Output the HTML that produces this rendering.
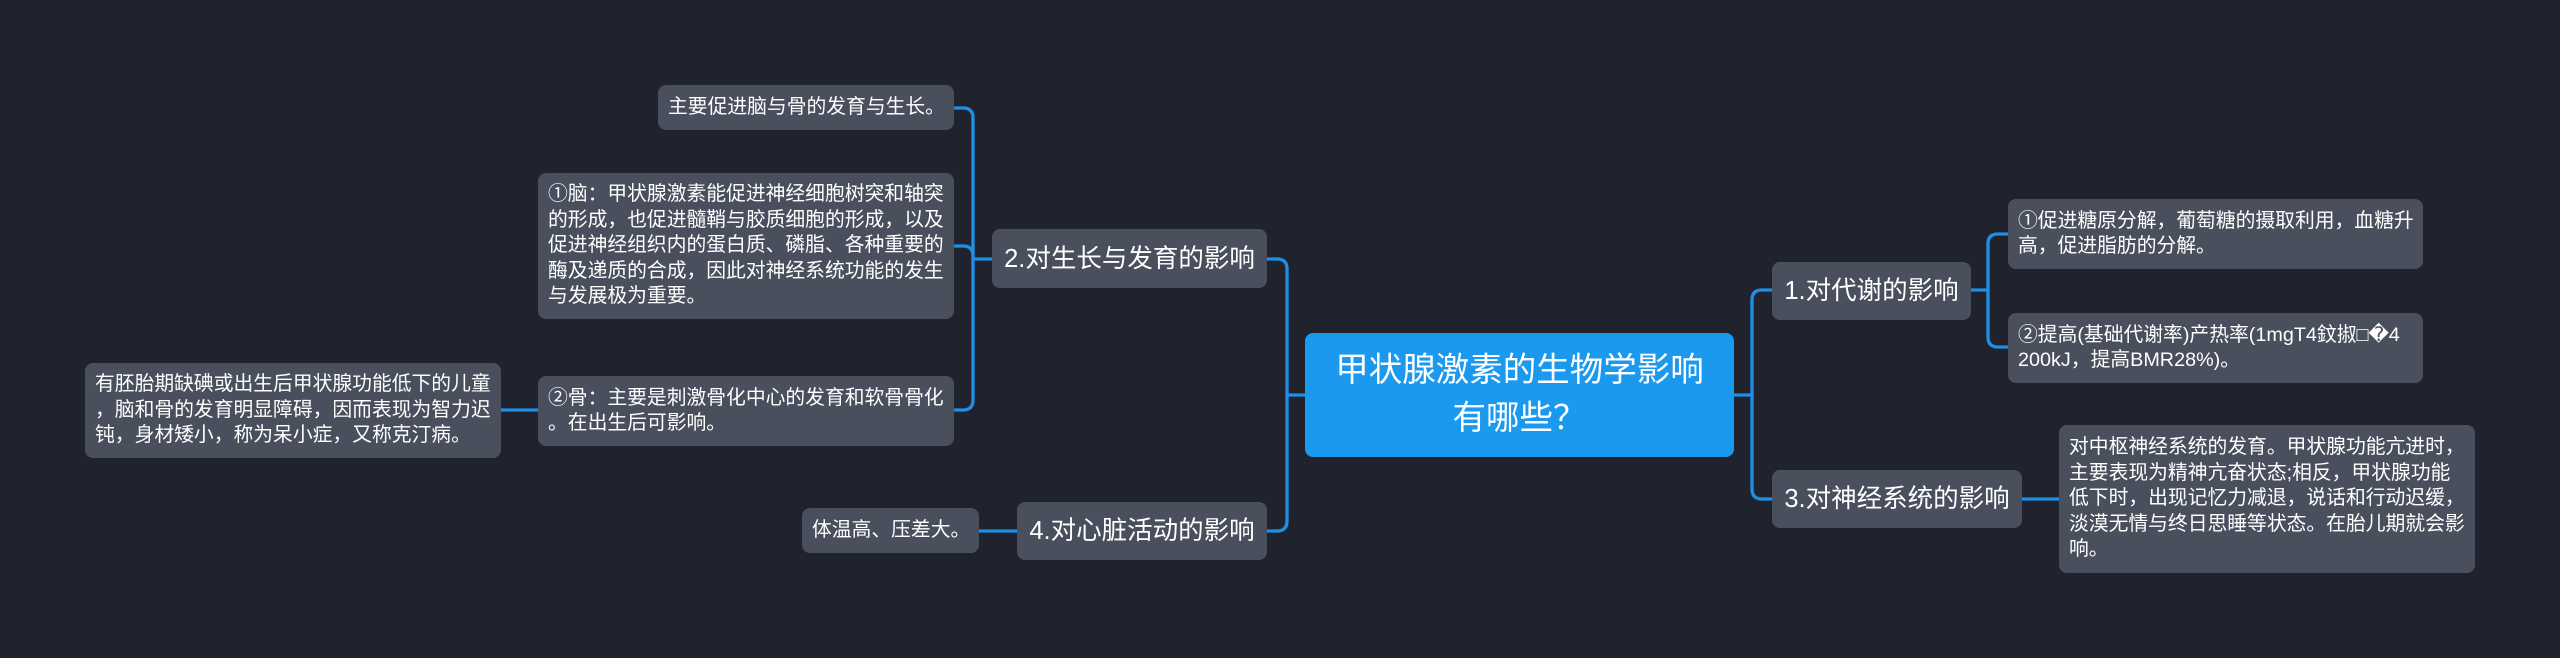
<!DOCTYPE html>
<html>
<head>
<meta charset="utf-8">
<style>
  html, body { margin:0; padding:0; }
  body { width:2560px; height:658px; background:#20232e; overflow:hidden; }
  #c { position:relative; width:2560px; height:658px; background:#20232e; }
  .n { position:absolute; box-sizing:border-box; border-radius:8px; background:#4a4f5e; color:#ffffff;
       font-family:"Liberation Sans","Noto Sans CJK SC",sans-serif; white-space:nowrap;
       display:flex; flex-direction:column; justify-content:center; }
  .leaf { font-size:19.8px; line-height:25.4px; padding:0 10px; text-align:left; }
  .l1 { font-size:25.5px; line-height:32px; text-align:center; align-items:center; }
  .root { background:#1a99ef; font-size:33.5px; line-height:48px; text-align:center; align-items:center; }
  svg { position:absolute; left:0; top:0; }
</style>
</head>
<body>
<div id="c">
<svg width="2560" height="658" viewBox="0 0 2560 658">
  <g fill="none" stroke="#1f8fe6" stroke-width="3.3" stroke-linecap="round">
    <path d="M1287,395 H1305"/>
    <path d="M1267,259 H1277 Q1287,259 1287,269 V521 Q1287,531 1277,531 H1267"/>
    <path d="M973,259 H992"/>
    <path d="M954,108 H963 Q973,108 973,118 V400 Q973,410 963,410 H954"/>
    <path d="M954,246 H963 Q973,246 973,256"/>
    <path d="M501,410 H538"/>
    <path d="M979,531 H1017"/>
    <path d="M1734,395 H1752"/>
    <path d="M1772,290 H1762 Q1752,290 1752,300 V489 Q1752,499 1762,499 H1772"/>
    <path d="M1971,290 H1988"/>
    <path d="M2008,234 H1998 Q1988,234 1988,244 V337 Q1988,347 1998,347 H2008"/>
    <path d="M2022,499 H2059"/>
  </g>
</svg>

<div class="n root" style="left:1305px;top:333px;width:429px;height:124px;">
  <div>甲状腺激素的生物学影响<br>有哪些？</div>
</div>

<div class="n l1" style="left:992px;top:229px;width:275px;height:59px;"><div>2.对生长与发育的影响</div></div>
<div class="n l1" style="left:1017px;top:502px;width:250px;height:58px;"><div>4.对心脏活动的影响</div></div>
<div class="n l1" style="left:1772px;top:262px;width:199px;height:58px;"><div>1.对代谢的影响</div></div>
<div class="n l1" style="left:1772px;top:470px;width:250px;height:58px;"><div>3.对神经系统的影响</div></div>

<div class="n leaf" style="left:658px;top:85px;width:296px;height:45px;"><div>主要促进脑与骨的发育与生长。</div></div>
<div class="n leaf" style="left:538px;top:173px;width:416px;height:146px;"><div>①脑：甲状腺激素能促进神经细胞树突和轴突<br>的形成，也促进髓鞘与胶质细胞的形成，以及<br>促进神经组织内的蛋白质、磷脂、各种重要的<br>酶及递质的合成，因此对神经系统功能的发生<br>与发展极为重要。</div></div>
<div class="n leaf" style="left:538px;top:376px;width:416px;height:70px;"><div>②骨：主要是刺激骨化中心的发育和软骨骨化<br>。在出生后可影响。</div></div>
<div class="n leaf" style="left:85px;top:363px;width:416px;height:95px;"><div>有胚胎期缺碘或出生后甲状腺功能低下的儿童<br>，脑和骨的发育明显障碍，因而表现为智力迟<br>钝，身材矮小，称为呆小症，又称克汀病。</div></div>
<div class="n leaf" style="left:802px;top:508px;width:177px;height:45px;"><div>体温高、压差大。</div></div>

<div class="n leaf" style="left:2008px;top:199px;width:415px;height:70px;"><div>①促进糖原分解，葡萄糖的摄取利用，血糖升<br>高，促进脂肪的分解。</div></div>
<div class="n leaf" style="left:2008px;top:313px;width:415px;height:70px;"><div>②提高(基础代谢率)产热率(1mgT4鈫掓□�4<br>200kJ，提高BMR28%)。</div></div>
<div class="n leaf" style="left:2059px;top:425px;width:416px;height:148px;"><div>对中枢神经系统的发育。甲状腺功能亢进时，<br>主要表现为精神亢奋状态;相反，甲状腺功能<br>低下时，出现记忆力减退，说话和行动迟缓，<br>淡漠无情与终日思睡等状态。在胎儿期就会影<br>响。</div></div>
</div>
</body>
</html>
